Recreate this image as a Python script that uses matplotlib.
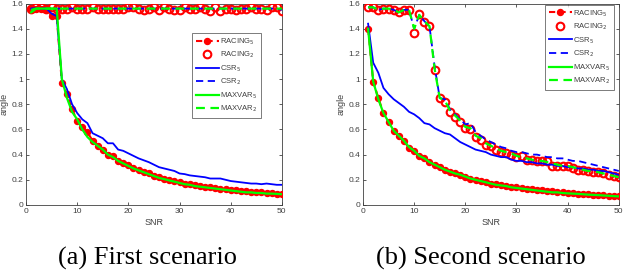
import matplotlib
matplotlib.use("Agg")
import matplotlib.pyplot as plt
import numpy as np

snr = list(range(1, 51))

# ---------- First scenario ----------
a_racing5 = [1.56, 1.56, 1.56, 1.56, 1.50, 1.50, 0.97, 0.88, 0.76, 0.67,
             0.62, 0.58, 0.51, 0.47, 0.44, 0.40, 0.39, 0.35, 0.33, 0.32,
             0.29, 0.28, 0.26, 0.25, 0.23, 0.22, 0.21, 0.20, 0.19, 0.18,
             0.17, 0.165, 0.155, 0.15, 0.145, 0.14, 0.135, 0.13, 0.125, 0.12,
             0.115, 0.11, 0.11, 0.105, 0.10, 0.10, 0.095, 0.095, 0.09, 0.09]
a_racing2 = [1.56, 1.57, 1.57, 1.56, 1.57, 1.56, 1.56, 1.56, 1.57, 1.56,
             1.56, 1.56, 1.57, 1.56, 1.56, 1.56, 1.56, 1.56, 1.56, 1.57,
             1.57, 1.56, 1.55, 1.56, 1.57, 1.55, 1.57, 1.56, 1.55, 1.55,
             1.57, 1.56, 1.56, 1.57, 1.56, 1.54, 1.57, 1.54, 1.56, 1.56,
             1.55, 1.56, 1.56, 1.57, 1.56, 1.56, 1.55, 1.57, 1.57, 1.54]
a_csr5 = [1.56, 1.56, 1.56, 1.56, 1.52, 1.50, 1.00, 0.92, 0.80, 0.73,
          0.68, 0.65, 0.57, 0.55, 0.53, 0.49, 0.49, 0.44, 0.43, 0.41,
          0.39, 0.37, 0.355, 0.34, 0.32, 0.30, 0.29, 0.28, 0.27, 0.25,
          0.245, 0.235, 0.23, 0.225, 0.22, 0.21, 0.21, 0.21, 0.20, 0.19,
          0.185, 0.18, 0.175, 0.17, 0.17, 0.165, 0.17, 0.165, 0.16, 0.16]
a_csr2 = [1.56, 1.56, 1.56, 1.56, 1.56, 1.56, 1.56, 1.56, 1.56, 1.56,
          1.56, 1.56, 1.56, 1.56, 1.56, 1.56, 1.56, 1.56, 1.56, 1.56,
          1.56, 1.56, 1.56, 1.56, 1.56, 1.56, 1.56, 1.56, 1.56, 1.56,
          1.56, 1.56, 1.56, 1.56, 1.56, 1.56, 1.56, 1.56, 1.56, 1.56,
          1.56, 1.56, 1.56, 1.56, 1.56, 1.56, 1.56, 1.56, 1.56, 1.55]
a_maxvar5 = [1.53, 1.56, 1.56, 1.56, 1.56, 1.56, 1.00, 0.85, 0.74, 0.68,
             0.60, 0.54, 0.50, 0.47, 0.44, 0.40, 0.38, 0.35, 0.33, 0.31,
             0.29, 0.275, 0.26, 0.245, 0.23, 0.215, 0.205, 0.195, 0.185, 0.175,
             0.165, 0.16, 0.15, 0.145, 0.14, 0.135, 0.13, 0.125, 0.12, 0.115,
             0.11, 0.105, 0.10, 0.10, 0.095, 0.095, 0.09, 0.09, 0.088, 0.085]
a_maxvar2 = [1.55, 1.56, 1.56, 1.56, 1.56, 1.56, 1.56, 1.56, 1.56, 1.56,
             1.56, 1.56, 1.56, 1.56, 1.56, 1.56, 1.56, 1.56, 1.56, 1.56,
             1.56, 1.56, 1.56, 1.56, 1.56, 1.56, 1.56, 1.56, 1.56, 1.56,
             1.56, 1.56, 1.56, 1.56, 1.56, 1.56, 1.56, 1.56, 1.56, 1.56,
             1.56, 1.56, 1.56, 1.56, 1.56, 1.56, 1.56, 1.56, 1.56, 1.56]

# ---------- Second scenario ----------
b_racing5 = [1.40, 0.98, 0.85, 0.73, 0.66, 0.59, 0.55, 0.51, 0.45, 0.43,
             0.39, 0.37, 0.34, 0.32, 0.30, 0.28, 0.26, 0.25, 0.24, 0.22,
             0.21, 0.20, 0.19, 0.18, 0.17, 0.165, 0.16, 0.15, 0.145, 0.14,
             0.135, 0.13, 0.125, 0.12, 0.115, 0.11, 0.108, 0.105, 0.10, 0.098,
             0.095, 0.09, 0.088, 0.085, 0.082, 0.08, 0.078, 0.075, 0.072, 0.07]
b_racing2 = [1.57, 1.57, 1.55, 1.56, 1.56, 1.55, 1.53, 1.55, 1.55, 1.37,
             1.52, 1.45, 1.42, 1.07, 0.85, 0.82, 0.74, 0.70, 0.66, 0.61,
             0.60, 0.54, 0.52, 0.48, 0.47, 0.44, 0.42, 0.41, 0.40, 0.38,
             0.39, 0.36, 0.36, 0.35, 0.35, 0.35, 0.31, 0.31, 0.31, 0.31,
             0.29, 0.28, 0.28, 0.27, 0.26, 0.26, 0.25, 0.24, 0.23, 0.22]
b_csr5 = [1.44, 1.13, 1.05, 0.93, 0.88, 0.84, 0.81, 0.78, 0.74, 0.72,
          0.69, 0.65, 0.64, 0.61, 0.59, 0.57, 0.56, 0.53, 0.50, 0.48,
          0.46, 0.44, 0.43, 0.42, 0.40, 0.39, 0.38, 0.38, 0.36, 0.35,
          0.35, 0.34, 0.34, 0.33, 0.33, 0.32, 0.32, 0.31, 0.31, 0.30,
          0.30, 0.29, 0.29, 0.28, 0.28, 0.27, 0.27, 0.26, 0.25, 0.24]
b_csr2 = [1.57, 1.57, 1.55, 1.56, 1.56, 1.55, 1.53, 1.55, 1.55, 1.40,
          1.51, 1.46, 1.42, 1.10, 0.85, 0.84, 0.76, 0.72, 0.68, 0.64,
          0.65, 0.58, 0.55, 0.52, 0.50, 0.48, 0.46, 0.45, 0.43, 0.42,
          0.42, 0.41, 0.40, 0.40, 0.39, 0.38, 0.38, 0.37, 0.37, 0.36,
          0.35, 0.35, 0.34, 0.33, 0.32, 0.31, 0.30, 0.29, 0.28, 0.27]
b_maxvar5 = [1.40, 0.98, 0.84, 0.73, 0.66, 0.59, 0.55, 0.51, 0.46, 0.43,
             0.39, 0.37, 0.34, 0.32, 0.30, 0.28, 0.265, 0.25, 0.24, 0.225,
             0.21, 0.20, 0.19, 0.18, 0.17, 0.16, 0.155, 0.15, 0.14, 0.135,
             0.13, 0.125, 0.12, 0.115, 0.11, 0.105, 0.10, 0.10, 0.095, 0.092,
             0.09, 0.088, 0.085, 0.082, 0.08, 0.078, 0.075, 0.073, 0.07, 0.068]
b_maxvar2 = [1.57, 1.57, 1.55, 1.56, 1.56, 1.55, 1.53, 1.55, 1.55, 1.40,
             1.51, 1.46, 1.42, 1.08, 0.85, 0.83, 0.75, 0.71, 0.67, 0.62,
             0.61, 0.55, 0.53, 0.49, 0.47, 0.45, 0.43, 0.42, 0.41, 0.39,
             0.38, 0.37, 0.36, 0.35, 0.35, 0.34, 0.33, 0.32, 0.31, 0.31,
             0.30, 0.29, 0.28, 0.27, 0.27, 0.26, 0.25, 0.24, 0.23, 0.22]

xticks = [0, 10, 20, 30, 40, 50]
yticks = [0, 0.2, 0.4, 0.6, 0.8, 1.0, 1.2, 1.4, 1.6]
yticklabels = ["0", "0.2", "0.4", "0.6", "0.8", "1", "1.2", "1.4", "1.6"]
captions = ["(a) First scenario", "(b) Second scenario"]

RED = "#ff0000"
BLUE = "#0000ff"
GREEN = "#00ff00"
AX = "#404040"

plt.rcParams["font.family"] = ["Liberation Sans", "DejaVu Sans"]

fig = plt.figure(figsize=(6.24, 2.74), dpi=100)
positions = [[0.0417, 0.252, 0.410, 0.735], [0.5817, 0.252, 0.410, 0.735]]
data = [
    (a_racing5, a_racing2, a_csr5, a_csr2, a_maxvar5, a_maxvar2),
    (b_racing5, b_racing2, b_csr5, b_csr2, b_maxvar5, b_maxvar2),
]
legend_pos = [(0.918, 0.855), (0.98, 0.995)]
caption_x = [0.237, 0.77]

for i, (pos, d) in enumerate(zip(positions, data)):
    r5, r2, c5, c2, m5, m2 = d
    ax = fig.add_axes(pos)
    ax.plot(snr, r5, color=RED, ls=(0, (3, 2)), lw=1.5, marker="o", ms=4.3,
            mfc=RED, mec=RED, label=r"RACING$_5$", zorder=3)
    ax.plot(snr, r2, ls="none", marker="o", ms=5.5, mfc="none", mec=RED,
            mew=1.5, label=r"RACING$_2$", zorder=3)
    ax.plot(snr, c5, color=BLUE, lw=1.3, label=r"CSR$_5$", zorder=4)
    ax.plot(snr, c2, color=BLUE, lw=1.3, ls=(0, (4, 2.5)), label=r"CSR$_2$", zorder=4)
    ax.plot(snr, m5, color=GREEN, lw=1.6, label=r"MAXVAR$_5$", zorder=5)
    ax.plot(snr, m2, color=GREEN, lw=1.6, ls=(0, (4, 2.5)), label=r"MAXVAR$_2$", zorder=5)
    ax.set_xlim(0, 50)
    ax.set_ylim(0, 1.6)
    ax.set_xticks(xticks)
    ax.set_yticks(yticks)
    ax.set_yticklabels(yticklabels)
    ax.tick_params(direction="in", length=2.5, width=0.6, labelsize=6,
                   colors=AX, top=True, right=True, pad=2)
    for s in ax.spines.values():
        s.set_color(AX)
        s.set_linewidth(0.6)
    ax.set_xlabel("SNR", fontsize=6.5, color=AX, labelpad=2)
    ax.set_ylabel("angle", fontsize=6.5, color=AX, labelpad=2)
    leg = ax.legend(loc="upper right", bbox_to_anchor=legend_pos[i], fontsize=5.5,
                    frameon=True, fancybox=False, edgecolor=AX, handlelength=3.0,
                    handletextpad=0.2, labelspacing=0.4, borderpad=0.45,
                    borderaxespad=0.0)
    leg.get_frame().set_linewidth(0.6)
    for t in leg.get_texts():
        t.set_color(AX)
    fig.text(caption_x[i], 0.055, captions[i],
             ha="center", va="center", fontsize=19,
             family=["Liberation Serif", "DejaVu Serif"], color="black")

fig.savefig("out.png", dpi=100)
